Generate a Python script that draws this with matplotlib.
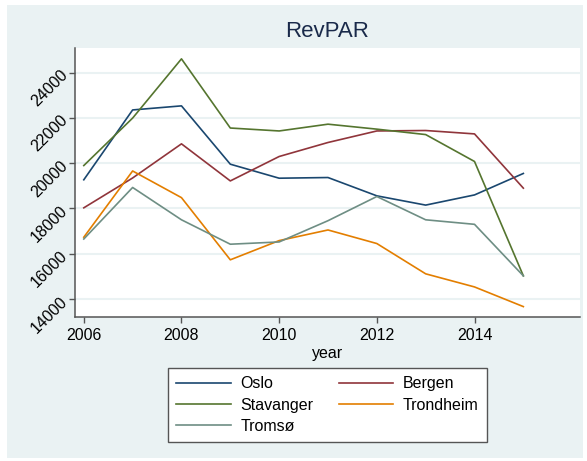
import matplotlib.pyplot as plt
from matplotlib.patches import Rectangle

plt.rcParams['font.family'] = ['Liberation Sans', 'DejaVu Sans']

# RevPAR by city
years = [2006, 2007, 2008, 2009, 2010, 2011, 2012, 2013, 2014, 2015]
oslo = [19270, 22360, 22540, 19960, 19340, 19370, 18560, 18150, 18600, 19550]
bergen = [18030, 19350, 20860, 19220, 20300, 20920, 21430, 21450, 21300, 18900]
stavanger = [19900, 22000, 24620, 21560, 21430, 21730, 21510, 21270, 20080, 15020]
trondheim = [16730, 19660, 18480, 15730, 16580, 17050, 16450, 15110, 14530, 13660]
tromso = [16650, 18930, 17500, 16420, 16520, 17460, 18530, 17500, 17300, 15020]

names = ['Oslo', 'Bergen', 'Stavanger', 'Trondheim', 'Tromsø']
colors = ['#1a476f', '#90353b', '#55752f', '#e37e00', '#6e8e84']
yticks = [14000, 16000, 18000, 20000, 22000, 24000]
xticks = [2006, 2008, 2010, 2012, 2014]

bg = '#eaf2f3'

fig = plt.figure(figsize=(5.87, 4.61), dpi=100, facecolor='white')
fig.patches.append(Rectangle((7 / 587, 3 / 461), 576 / 587, 453 / 461,
                             transform=fig.transFigure, facecolor=bg,
                             edgecolor='none', zorder=-1))

ax = fig.add_axes([75 / 587, 144 / 461, 505 / 587, 269 / 461])
ax.set_facecolor('white')

lines = []
for name, vals, c in zip(names, [oslo, bergen, stavanger, trondheim, tromso], colors):
    ln, = ax.plot(years, vals, color=c, lw=1.2, label=name, zorder=3)
    lines.append(ln)

ax.set_xlim(2005.82, 2016.16)
ax.set_ylim(13200, 25100)
ax.set_xticks(xticks)
ax.set_yticks(yticks)
ax.set_yticklabels([str(v) for v in yticks], rotation=45, ha='right', va='center',
                   rotation_mode='anchor')
ax.tick_params(axis='both', labelsize=11.5, color='#555555', length=4, width=1,
               labelcolor='black')
ax.tick_params(axis='y', pad=3)
ax.tick_params(axis='x', pad=4)

ax.grid(axis='y', color=bg, lw=1.5, zorder=1)
ax.set_axisbelow(True)

for s in ['top', 'right']:
    ax.spines[s].set_visible(False)
for s in ['left', 'bottom']:
    ax.spines[s].set_color('#555555')
    ax.spines[s].set_linewidth(1.1)

ax.set_title('RevPAR', fontsize=16, color='#1a2a4a', pad=8)
ax.set_xlabel('year', fontsize=11.5, labelpad=2)

# legend reads Oslo/Bergen, Stavanger/Trondheim, Tromsø (column-major order)
order = [0, 2, 4, 1, 3]
leg = fig.legend([lines[i] for i in order], [names[i] for i in order], loc='center',
                 bbox_to_anchor=(327.5 / 587, 56 / 461), ncol=2,
                 fontsize=11.5, frameon=True, fancybox=False, handlelength=3.4,
                 handletextpad=0.6, columnspacing=1.6, labelspacing=0.4,
                 borderpad=0.5)
leg.get_frame().set_edgecolor('#555555')
leg.get_frame().set_linewidth(1.0)
leg.get_frame().set_facecolor('white')
leg.get_frame().set_alpha(1)

fig.savefig('out.png', dpi=100, facecolor='white')
